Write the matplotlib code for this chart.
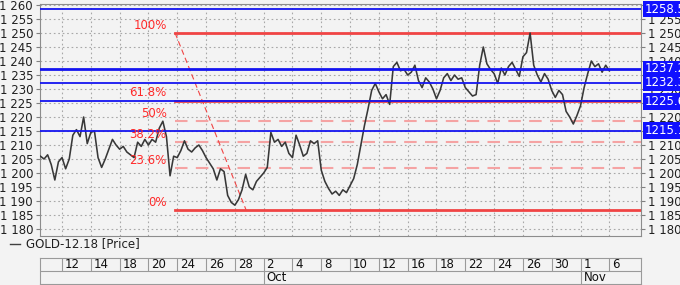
import matplotlib
matplotlib.use("Agg")
import matplotlib.pyplot as plt
from matplotlib.lines import Line2D

# price sampled every quarter trading day, starting 1.5 days before Sep 12
price_start = -1.5
price_step = 0.25
prices = [
    1206, 1205, 1206.5, 1203, 1197.5, 1204, 1205.5, 1201.5, 1205, 1213.5,
    1215.5, 1213, 1220, 1210.5, 1214.5, 1215, 1205.5, 1202, 1205, 1208.5,
    1212, 1210, 1208.5, 1209.5, 1207.5, 1206.5, 1205.5, 1211, 1209.5, 1212,
    1210, 1212, 1211, 1216, 1218.5, 1213, 1199, 1206, 1205.5, 1208,
    1211.5, 1208.5, 1207.5, 1209, 1210, 1208, 1205.5, 1203.5, 1201.5, 1197.5,
    1201.5, 1200.5, 1192, 1189.5, 1188.5, 1190.5, 1194, 1199.5, 1195, 1194,
    1197, 1198.5, 1200, 1202, 1214.5, 1211, 1212, 1209.5, 1211, 1207,
    1205.5, 1213.5, 1210, 1206, 1207, 1211.5, 1210.5, 1211.5, 1201, 1197,
    1194.5, 1192.5, 1193.5, 1192, 1194, 1193, 1195.5, 1198, 1203, 1210,
    1217, 1223, 1229.5, 1232, 1229, 1226.5, 1228, 1224.5, 1238, 1239.5,
    1236.5, 1237, 1235, 1236, 1238.5, 1233, 1230.5, 1234, 1232.5, 1230,
    1226.5, 1229.5, 1234, 1235.5, 1233, 1235, 1233.5, 1234, 1230.5, 1229,
    1227.5, 1228, 1238.5, 1245, 1239, 1237, 1235.5, 1232, 1237.5, 1235,
    1238, 1239.5, 1237, 1234.5, 1241.5, 1243, 1250, 1238.5, 1235, 1232.5,
    1235.5, 1233.5, 1229.5, 1227, 1229.5, 1228, 1222, 1220, 1217.5, 1220.5,
    1224, 1230.5, 1235.5, 1240, 1238, 1239, 1236, 1238.5, 1236.5,
]

day_labels = ["12", "14", "18", "20", "24", "26", "28", "2", "4", "8",
              "10", "12", "16", "18", "22", "24", "26", "30", "1", "6"]
month_labels = ["Oct", "Nov"]
month_ticks = [7, 18]  # index into day_labels

blue_levels = [1258.5, 1237.2, 1232.3, 1225.6, 1215.1]

fib_high = 1250.0
fib_low = 1186.8
fib_t_high = 7.85
fib_t_low = 12.78
fib_ratios = [1.0, 0.618, 0.5, 0.382, 0.236, 0.0]
fib_names = ["100%", "61.8%", "50%", "38.2%", "23.6%", "0%"]

BG = "#f3f3f3"
GRID = "#a8a8a8"
RED = "#f04444"
PINK = "#f5a3a3"
BLUE = "#1414f0"

fig = plt.figure(figsize=(6.8, 2.85), dpi=100, facecolor=BG)
ax = fig.add_axes([40 / 680, 1 - 236 / 285, 601 / 680, 232 / 285])
ax.set_facecolor(BG)

t = [price_start + price_step * i for i in range(len(prices))]
ax.plot(t, prices, color="#383838", lw=1.15, zorder=4)

xmin, xmax = -1.53, 40.2
ax.set_xlim(xmin, xmax)
ax.set_ylim(1177.5, 1260.36)

xticks = [2 * i for i in range(len(day_labels))]
ax.set_xticks(xticks)
ax.set_xticklabels([])
yticks = list(range(1180, 1261, 5))
ax.set_yticks(yticks)
ax.set_yticklabels([f"{v // 1000} {v % 1000:03d}" for v in yticks])
ax.tick_params(axis="y", labelsize=8.5, length=3, color="#808080",
               labelright=True, right=True, pad=2, labelcolor="#202020")
ax.tick_params(axis="x", length=0)
ax.grid(True, color=GRID, ls=(0, (1.5, 2.5)), lw=0.8)
for s in ax.spines.values():
    s.set_color("#8c8c8c")
    s.set_linewidth(0.8)

# blue levels with value boxes on the right
for lv in blue_levels:
    ax.axhline(lv, color=BLUE, lw=2.0 if lv == 1237.2 else 1.3, zorder=5)
    ax.annotate(f"{lv:.1f}", xy=(1, lv), xycoords=("axes fraction", "data"),
                xytext=(3, 0), textcoords="offset points", ha="left",
                va="center", fontsize=8.5, color="white", zorder=10,
                annotation_clip=False,
                bbox=dict(boxstyle="square,pad=0.15", fc="#1010ff", ec="none"))

# fibonacci retracement
rng = fib_high - fib_low
for r, name in zip(fib_ratios, fib_names):
    lv = fib_low + r * rng
    if r in (1.0, 0.618, 0.0):
        ax.plot([fib_t_high, xmax], [lv, lv], color=RED, lw=2, zorder=3)
    else:
        ax.plot([fib_t_high, xmax], [lv, lv], color=PINK, lw=1.5,
                ls=(0, (6, 4)), zorder=3)
    ax.annotate(name, xy=(fib_t_high, lv), xytext=(-6, 1),
                textcoords="offset points", ha="right", va="bottom",
                fontsize=8.5, color="#ff2a2a", zorder=6)
ax.plot([fib_t_high, fib_t_low], [fib_high, fib_low], color=RED, lw=0.8,
        ls=(0, (5, 3)), zorder=3)

# legend
fig.add_artist(Line2D([10 / 680, 20 / 680], [1 - 244 / 285] * 2,
                      color="#404040", lw=1))
fig.text(26 / 680, 1 - 244 / 285, "GOLD-12.18 [Price]", fontsize=8.5,
         va="center", ha="left", color="#202020")

# date axis
dax = fig.add_axes([40 / 680, 1 / 285, 601 / 680, 26 / 285])
dax.set_facecolor(BG)
dax.set_xlim(xmin, xmax)
dax.set_ylim(0, 2)
dax.set_xticks([])
dax.set_yticks([])
for s in dax.spines.values():
    s.set_color("#9a9a9a")
    s.set_linewidth(0.8)
dax.axhline(1, color="#9a9a9a", lw=0.8)
dax.vlines(xticks, 1, 2, color="#9a9a9a", lw=0.8)
for x, lab in zip(xticks, day_labels):
    dax.text(x + 0.2, 1.5, lab, fontsize=8.5, va="center", ha="left",
             color="#101010")
for i, lab in zip(month_ticks, month_labels):
    dax.vlines(xticks[i], 0, 1, color="#9a9a9a", lw=0.8)
    dax.text(xticks[i] + 0.2, 0.5, lab, fontsize=8.5, va="center",
             ha="left", color="#101010")

fig.savefig("out.png", dpi=100, facecolor=BG)
